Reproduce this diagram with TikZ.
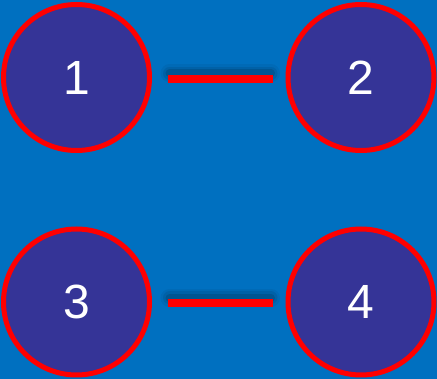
\documentclass[tikz,border=0pt]{standalone}
\usepackage{fontspec}
\setmainfont{Liberation Sans}
\definecolor{bg}{HTML}{0070C0}
\definecolor{disc}{HTML}{353497}
\definecolor{rim}{HTML}{FF0000}
\tikzset{
  num/.style={circle, draw=rim, fill=disc, line width=5pt, minimum size=146pt, inner sep=0pt, outer sep=0pt, text=white, font=\fontsize{48}{48}\selectfont},
  link/.style={draw=rim, line width=8pt, line cap=butt, shorten <=18.5pt, shorten >=15pt},
  linkshadow/.style={draw=black, line cap=round, shorten <=20pt, shorten >=17pt}
}
\begin{document}
\begin{tikzpicture}[x=1pt,y=-1pt]
\fill[bg] (0,0) rectangle (437,379);
\useasboundingbox (0,0) rectangle (437,379);
\node[num] (n1) at (76.5,77.5) {1};
\node[num] (n2) at (361,77.5) {2};
\node[num] (n3) at (76.5,302) {3};
\node[num] (n4) at (361,302) {4};
\foreach \a/\b/\dy in {n1/n2/4, n3/n4/4}{
  \path[linkshadow, line width=18pt, opacity=0.05] ([yshift=\dy pt]\a.east) -- ([yshift=\dy pt]\b.west);
  \path[linkshadow, line width=13pt, opacity=0.08] ([yshift=\dy pt]\a.east) -- ([yshift=\dy pt]\b.west);
  \path[linkshadow, line width=8pt, opacity=0.12] ([yshift=\dy pt]\a.east) -- ([yshift=\dy pt]\b.west);
}
\path[link] ([yshift=-1.5pt]n1.east) -- ([yshift=-1.5pt]n2.west);
\path[link] ([yshift=-1.5pt]n3.east) -- ([yshift=-1.5pt]n4.west);
\end{tikzpicture}
\end{document}
